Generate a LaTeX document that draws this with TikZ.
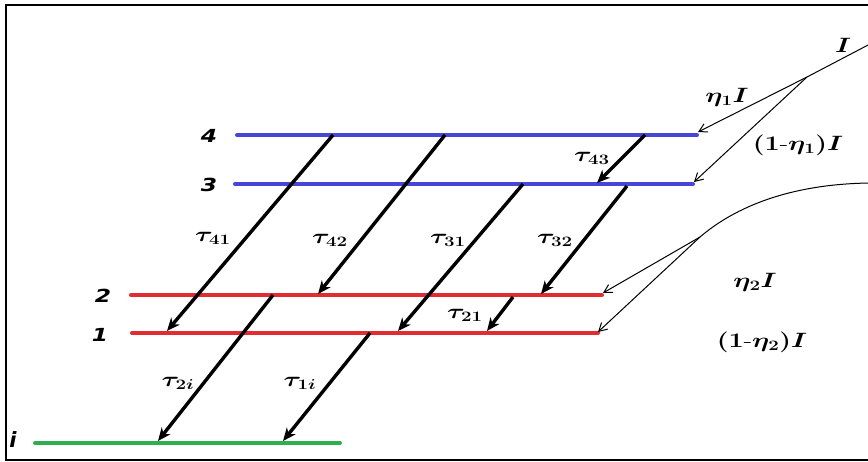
\documentclass[tikz,border=0pt]{standalone}
\usepackage{amsmath,bm}
\usepackage{fontspec}
\newfontfamily\numfont{DejaVu Sans}
\usetikzlibrary{arrows.meta}
\definecolor{lvblue}{RGB}{70,70,215}
\definecolor{lvred}{RGB}{225,45,50}
\definecolor{lvgreen}{RGB}{45,175,80}
\newcommand{\wide}[1]{\scalebox{1.3}[1]{#1}}
\tikzset{
  lvl/.style={line width=4pt,line cap=round},
  decay/.style={line width=3.4pt,-{Stealth[length=13pt,width=11pt,inset=4pt]}},
  pump/.style={line width=1pt,-{Straight Barb[length=8pt,width=9pt]}},
  tlab/.style={font=\fontsize{20}{22}\selectfont,inner sep=1pt},
  nlab/.style={font=\numfont\bfseries\itshape\fontsize{18}{20}\selectfont,inner sep=1pt},
  plab/.style={font=\fontsize{21}{23}\selectfont,inner sep=1pt}
}
\begin{document}
\begin{tikzpicture}[x=1pt,y=-1pt]
\useasboundingbox (0,0) rectangle (868,461);
\draw[line width=2.5pt] (868,5) -- (6,5) -- (6,460) -- (868,460);
% levels
\coordinate (L4a) at (237,135); \coordinate (L4b) at (697,135);
\coordinate (L3a) at (235,184); \coordinate (L3b) at (693,184);
\coordinate (L2a) at (131,295); \coordinate (L2b) at (602,295);
\coordinate (L1a) at (132,333); \coordinate (L1b) at (598,333);
\coordinate (Lia) at (35,443);  \coordinate (Lib) at (340,443);
\draw[lvl,lvblue] (L4a) -- (L4b);
\draw[lvl,lvblue] (L3a) -- (L3b);
\draw[lvl,lvred] (L2a) -- (L2b);
\draw[lvl,lvred] (L1a) -- (L1b);
\draw[lvl,lvgreen] (Lia) -- (Lib);
\node[nlab] (n4) at (209,136) {\wide{4}};
\node[nlab] (n3) at (209,185) {\wide{3}};
\node[nlab] (n2) at (103,296) {\wide{2}};
\node[nlab] (n1) at (100,335) {\wide{1}};
\node[nlab,font=\numfont\bfseries\itshape\fontsize{21}{23}\selectfont] (ni) at (13,440) {i};
% decay arrows
\coordinate (a41s) at (333,135); \coordinate (a41e) at (167,331);
\coordinate (a42s) at (445,135); \coordinate (a42e) at (318,294);
\coordinate (a43s) at (645,135); \coordinate (a43e) at (597,183);
\coordinate (a31s) at (523,184); \coordinate (a31e) at (398,331);
\coordinate (a32s) at (627,186); \coordinate (a32e) at (541,294);
\coordinate (a21s) at (513,297); \coordinate (a21e) at (487,331);
\coordinate (a2is) at (273,295); \coordinate (a2ie) at (158,441);
\coordinate (a1is) at (370,333); \coordinate (a1ie) at (283,441);
\draw[decay] (a41s) -- (a41e);
\draw[decay] (a42s) -- (a42e);
\draw[decay] (a43s) -- (a43e);
\draw[decay] (a31s) -- (a31e);
\draw[decay] (a32s) -- (a32e);
\draw[decay] (a21s) -- (a21e);
\draw[decay] (a2is) -- (a2ie);
\draw[decay] (a1is) -- (a1ie);
\node[tlab] (t41) at (213,238) {\wide{$\bm{\tau_{41}}$}};
\node[tlab] (t42) at (330,240) {\wide{$\bm{\tau_{42}}$}};
\node[tlab] (t43) at (592,158) {\wide{$\bm{\tau_{43}}$}};
\node[tlab] (t31) at (448,240) {\wide{$\bm{\tau_{31}}$}};
\node[tlab] (t32) at (555,240) {\wide{$\bm{\tau_{32}}$}};
\node[tlab] (t21) at (465,315) {\wide{$\bm{\tau_{21}}$}};
\node[tlab] (t2i) at (178,383) {\wide{$\bm{\tau_{2i}}$}};
\node[tlab] (t1i) at (300,383) {\wide{$\bm{\tau_{1i}}$}};
% pump 1
\coordinate (p1in) at (870,44);
\coordinate (p1s) at (807,77);
\coordinate (p1a) at (698,132);
\coordinate (p1b) at (694,182);
\draw[line width=1pt] (p1in) -- (p1s);
\draw[pump] (p1s) -- (p1a);
\draw[pump] (p1s) -- (p1b);
\node[plab] (lI) at (843,45) {\wide{$\bm{I}$}};
\node[plab] (le1) at (727,97) {\wide{$\bm{\eta_1 I}$}};
\node[plab] (le1b) at (798,145) {\wide{$\bm{(1\text{-}\eta_1)I}$}};
% pump 2
\coordinate (p2in) at (870,183);
\coordinate (p2s) at (700,237);
\coordinate (p2a) at (603,293);
\coordinate (p2b) at (598,332);
\draw[line width=1pt] (p2in) .. controls (790,184) and (735,207) .. (p2s);
\draw[pump] (p2s) -- (p2a);
\draw[pump] (p2s) -- (p2b);
\node[plab] (le2) at (755,282) {\wide{$\bm{\eta_2 I}$}};
\node[plab] (le2b) at (762,342) {\wide{$\bm{(1\text{-}\eta_2)I}$}};
\end{tikzpicture}
\end{document}
